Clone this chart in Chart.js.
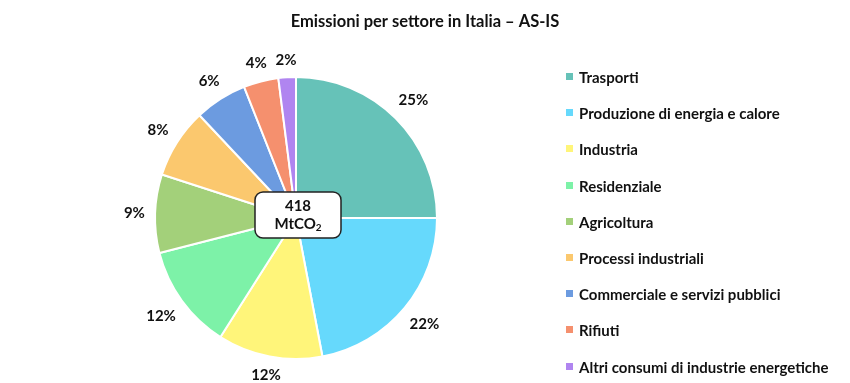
<!DOCTYPE html>
<html><head><meta charset="utf-8">
<script src="https://cdn.jsdelivr.net/npm/chart.js@4/dist/chart.umd.min.js"></script>
<style>
html,body{margin:0;padding:0;background:#fff;}
#wrap{position:relative;width:850px;height:383px;}
#legend{position:absolute;left:566px;top:0;font-family:Lato,"Open Sans",sans-serif;font-weight:bold;font-size:15px;color:#111;}
.item{position:absolute;left:0;white-space:nowrap;height:18px;line-height:18px;}
.sw{position:absolute;left:0;top:5px;width:7px;height:7px;}
.lt{position:absolute;left:13px;top:0;}
</style></head>
<body><div id="wrap"><canvas id="c" width="850" height="383"></canvas><div id="legend"></div></div>
<script>
const title = "Emissioni per settore in Italia – AS-IS";
const categories = ["Trasporti","Produzione di energia e calore","Industria","Residenziale","Agricoltura","Processi industriali","Commerciale e servizi pubblici","Rifiuti","Altri consumi di industrie energetiche"];
const shares = [25,22,12,12,9,8,6,4,2];
const colors = ["#66c2b8","#66d9fc","#fff57a","#7df2a8","#a3d07a","#fbc86e","#6c9be0","#f5906e","#b085f0"];
const totalValue = "418";
const totalUnit = "MtCO";

const lg = document.getElementById('legend');
categories.forEach((c,i)=>{
  const d=document.createElement('div');d.className='item';d.style.top=(68+i*36.2)+'px';
  d.innerHTML='<span class="sw" style="background:'+colors[i]+'"></span><span class="lt">'+c+'</span>';
  lg.appendChild(d);
});

const FONT = 'Lato, "Open Sans", sans-serif';
const overlay = {
  id:'overlay',
  afterDraw(chart){
    const ctx=chart.ctx;
    const meta=chart.getDatasetMeta(0);
    ctx.save();
    ctx.fillStyle='#111';
    ctx.font='bold 16.5px '+FONT;
    ctx.textAlign='center';ctx.textBaseline='middle';
    ctx.fillText(title,425,22);
    ctx.font='bold 15px '+FONT;
    meta.data.forEach((arc,i)=>{
      const p=arc.getProps(['x','y','startAngle','endAngle','outerRadius'],true);
      const a=(p.startAngle+p.endAngle)/2;
      const t=shares[i]+'%';
      const w=ctx.measureText(t).width, h=13;
      const ext=Math.abs(Math.cos(a))*w/2+Math.abs(Math.sin(a))*h/2;
      const r=p.outerRadius+10+ext;
      ctx.fillText(t,p.x+Math.cos(a)*r,p.y+Math.sin(a)*r);
    });
    // center box
    const cx=meta.data[0].x, cy=meta.data[0].y;
    const w=86,h=46,x=cx-41,y=cy-26,rr=8;
    ctx.beginPath();
    ctx.roundRect(x,y,w,h,rr);
    ctx.fillStyle='#fff';ctx.fill();
    ctx.lineWidth=1.5;ctx.strokeStyle='#222';ctx.stroke();
    ctx.fillStyle='#111';
    ctx.font='bold 15px '+FONT;
    ctx.fillText(totalValue,x+w/2,y+14);
    const tw=ctx.measureText(totalUnit).width;
    ctx.font='bold 10px '+FONT;
    const sw=ctx.measureText('2').width;
    const sx=x+w/2-(tw+sw)/2;
    ctx.textAlign='left';
    ctx.font='bold 15px '+FONT;
    ctx.fillText(totalUnit,sx,y+32);
    ctx.font='bold 10px '+FONT;
    ctx.fillText('2',sx+tw,y+36);
    ctx.restore();
  }
};

new Chart(document.getElementById('c'),{
  type:'pie',
  data:{labels:categories,datasets:[{data:shares,backgroundColor:colors,borderColor:'#fff',borderWidth:2}]},
  options:{
    responsive:false,animation:false,
    layout:{padding:{left:154,right:412,top:76,bottom:23}},
    plugins:{legend:{display:false},tooltip:{enabled:false},title:{display:false}}
  },
  plugins:[overlay]
});
</script></body></html>
